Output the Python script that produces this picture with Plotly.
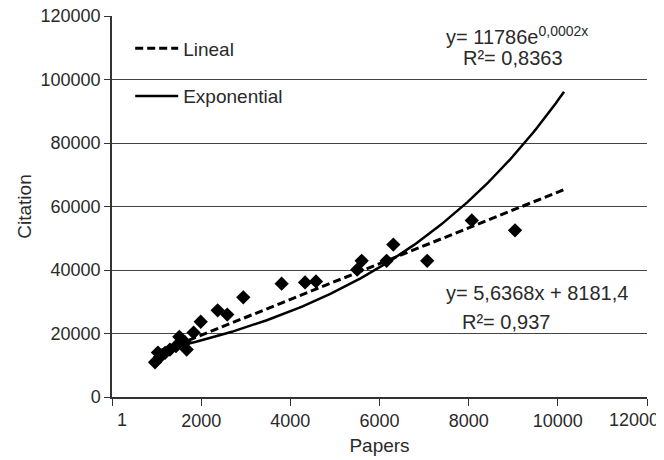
import numpy as np
import plotly.graph_objects as go

# ---- data ----
papers = [965, 1030, 1080, 1190, 1300, 1435, 1510, 1635, 1675, 1830, 1990, 2370,
          2585, 2945, 3805, 4330, 4575, 5500, 5600, 6160, 6310, 7070, 8070, 9040]
citations = [10950, 14000, 12650, 13900, 14950, 16000, 18950, 17250, 14950, 20300,
             23700, 27300, 25950, 31400, 35700, 36100, 36400, 40100, 42900, 42900,
             48000, 42900, 55600, 52500]

# trendline equations shown on the chart
lin_slope, lin_intercept = 5.6368, 8181.4
exp_a, exp_b = 11786, 0.000207   # displayed (rounded) as 11786e^0,0002x
forecast_forward = 1100

x_ticks = [0, 2000, 4000, 6000, 8000, 10000, 12000]
x_ticklabels = ["1", "2000", "4000", "6000", "8000", "10000", "12000"]
y_ticks = [0, 20000, 40000, 60000, 80000, 100000, 120000]
y_ticklabels = ["0", "20000", "40000", "60000", "80000", "100000", "120000"]

eq_exp = "y= 11786e<sup>0,0002x</sup>"
r2_exp = "R²= 0,8363"
eq_lin = "y= 5,6368x + 8181,4"
r2_lin = "R²= 0,937"

# ---- figure ----
FONT = "Liberation Sans, Arial, Helvetica, sans-serif"
TXT = "#2a2a2a"

xs = np.linspace(min(papers), max(papers) + forecast_forward, 200)
y_lin = lin_slope * xs + lin_intercept
y_exp = exp_a * np.exp(exp_b * xs)

fig = go.Figure()
fig.add_trace(go.Scatter(
    x=papers, y=citations, mode="markers", showlegend=False,
    marker=dict(symbol="diamond", size=11, color="black"),
))
fig.add_trace(go.Scatter(
    x=xs, y=y_lin, mode="lines", name="Lineal", legendgroup="a",
    line=dict(color="black", width=3, dash="8px,4px"),
))
fig.add_trace(go.Scatter(
    x=xs, y=y_exp, mode="lines", name="Exponential", legendgroup="b",
    line=dict(color="black", width=2.5),
))

ann = dict(xref="paper", yref="paper", showarrow=False,
           font=dict(family=FONT, size=20, color=TXT), xanchor="center", yanchor="middle")
fig.add_annotation(text=eq_exp, x=0.757, y=0.9476, **ann)
fig.add_annotation(text=r2_exp, x=0.7495, y=0.890, **ann)
fig.add_annotation(text=eq_lin, x=0.794, y=0.274, **ann)
fig.add_annotation(text=r2_lin, x=0.736, y=0.198, **ann)

# first and last x tick labels are nudged inward (as in the reference)
tick_ann = dict(xref="x", yref="paper", y=0, showarrow=False, yanchor="middle",
                yshift=-23, font=dict(family=FONT, size=18, color=TXT))
fig.add_annotation(text=x_ticklabels[0], x=x_ticks[0], xanchor="center", xshift=10, **tick_ann)
fig.add_annotation(text=x_ticklabels[-1], x=x_ticks[-1], xanchor="right", xshift=14, **tick_ann)
shown_ticktext = [""] + x_ticklabels[1:-1] + [""]

fig.update_layout(
    width=656, height=452,
    margin=dict(l=104, r=17, t=8, b=62.5, autoexpand=False),
    paper_bgcolor="white", plot_bgcolor="white",
    font=dict(family=FONT, size=18, color=TXT),
    legend=dict(x=0.034, y=0.965, xanchor="left", yanchor="top",
                bgcolor="rgba(0,0,0,0)", tracegroupgap=20, itemwidth=43,
                font=dict(family=FONT, size=19, color=TXT)),
    xaxis=dict(range=[0, 12000], tickvals=x_ticks, ticktext=shown_ticktext,
               showgrid=False, zeroline=False, showline=True, linecolor="#333",
               linewidth=1.5, ticks="outside", ticklen=7, tickcolor="#333",
               ticklabeloverflow="allow", automargin=False,
               tickfont=dict(size=18, color=TXT),
               title=dict(text="Papers", font=dict(size=19, color=TXT), standoff=8)),
    yaxis=dict(range=[0, 120000], tickvals=y_ticks, ticktext=y_ticklabels,
               showgrid=True, gridcolor="#444", gridwidth=1.2, zeroline=False,
               showline=True, linecolor="#333", linewidth=1.5, ticks="outside",
               ticklen=6, tickcolor="#333", automargin=False,
               ticklabeloverflow="allow",
               tickfont=dict(size=18, color=TXT),
               title=dict(text="Citation", font=dict(size=19, color=TXT), standoff=4)),
)

fig.write_html("out.html")
